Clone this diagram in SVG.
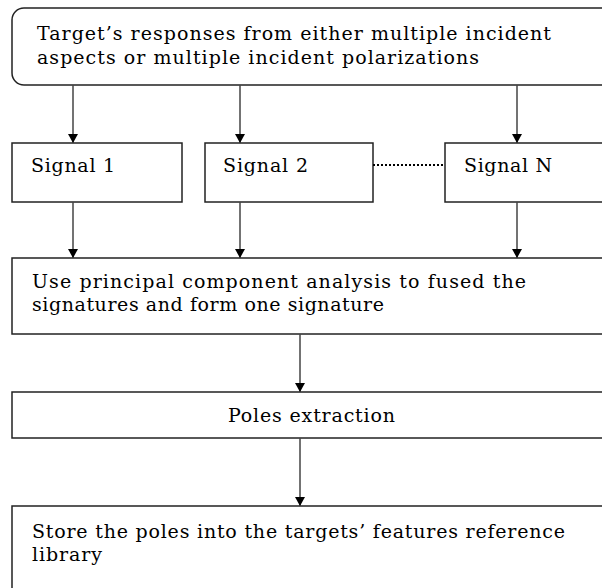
<svg xmlns="http://www.w3.org/2000/svg" width="602" height="588" viewBox="0 0 602 588">
<defs>
<marker id="ah" markerWidth="10" markerHeight="12" refX="9" refY="5" orient="auto" markerUnits="userSpaceOnUse" viewBox="0 0 10 10">
<path d="M0,0 L9,5 L0,10 Z" fill="#000"/>
</marker>
<style>
.box{fill:#fff;stroke:#222;stroke-width:1.5}
.t{font-family:"DejaVu Serif","Liberation Serif",serif;font-size:19px;fill:#000}
.c{stroke:#444;stroke-width:1.5;fill:none;marker-end:url(#ah)}
</style>
</defs>
<rect width="602" height="588" fill="#fff"/>
<g id="n-top">
<rect class="box" x="12" y="8" width="610" height="77" rx="12"/>
<text class="t" x="37" y="40" textLength="514" lengthAdjust="spacing">Target’s responses from either multiple incident</text>
<text class="t" x="37" y="64" textLength="442" lengthAdjust="spacing">aspects or multiple incident polarizations</text>
</g>
<g id="n-sig1">
<rect class="box" x="12" y="143" width="170" height="59"/>
<text class="t" x="31" y="172" textLength="84" lengthAdjust="spacing">Signal 1</text>
</g>
<g id="n-sig2">
<rect class="box" x="205" y="143" width="168" height="59"/>
<text class="t" x="223" y="172" textLength="85" lengthAdjust="spacing">Signal 2</text>
</g>
<g id="n-sigN">
<rect class="box" x="445" y="143" width="180" height="59"/>
<text class="t" x="464" y="172" textLength="88" lengthAdjust="spacing">Signal N</text>
</g>
<g id="n-pca">
<rect class="box" x="12" y="258" width="610" height="76"/>
<text class="t" x="32" y="288" textLength="494" lengthAdjust="spacing">Use principal component analysis to fused the</text>
<text class="t" x="32" y="311" textLength="352" lengthAdjust="spacing">signatures and form one signature</text>
</g>
<g id="n-poles">
<rect class="box" x="12" y="392" width="610" height="46"/>
<text class="t" x="228" y="422" textLength="167" lengthAdjust="spacing">Poles extraction</text>
</g>
<g id="n-store">
<rect class="box" x="12" y="506" width="610" height="90"/>
<text class="t" x="32" y="538" textLength="533" lengthAdjust="spacing">Store the poles into the targets’ features reference</text>
<text class="t" x="32" y="561" textLength="70" lengthAdjust="spacing">library</text>
</g>
<g id="connectors">
<line class="c" x1="73" y1="85" x2="73" y2="143"/>
<line class="c" x1="240" y1="85" x2="240" y2="143"/>
<line class="c" x1="517" y1="85" x2="517" y2="143"/>
<line class="c" x1="73" y1="202" x2="73" y2="258"/>
<line class="c" x1="240" y1="202" x2="240" y2="258"/>
<line class="c" x1="517" y1="202" x2="517" y2="258"/>
<line class="c" x1="300" y1="334" x2="300" y2="392"/>
<line class="c" x1="300" y1="438" x2="300" y2="506"/>
<line x1="373" y1="165" x2="445" y2="165" stroke="#000" stroke-width="2" stroke-dasharray="2,2"/>
</g>
</svg>
